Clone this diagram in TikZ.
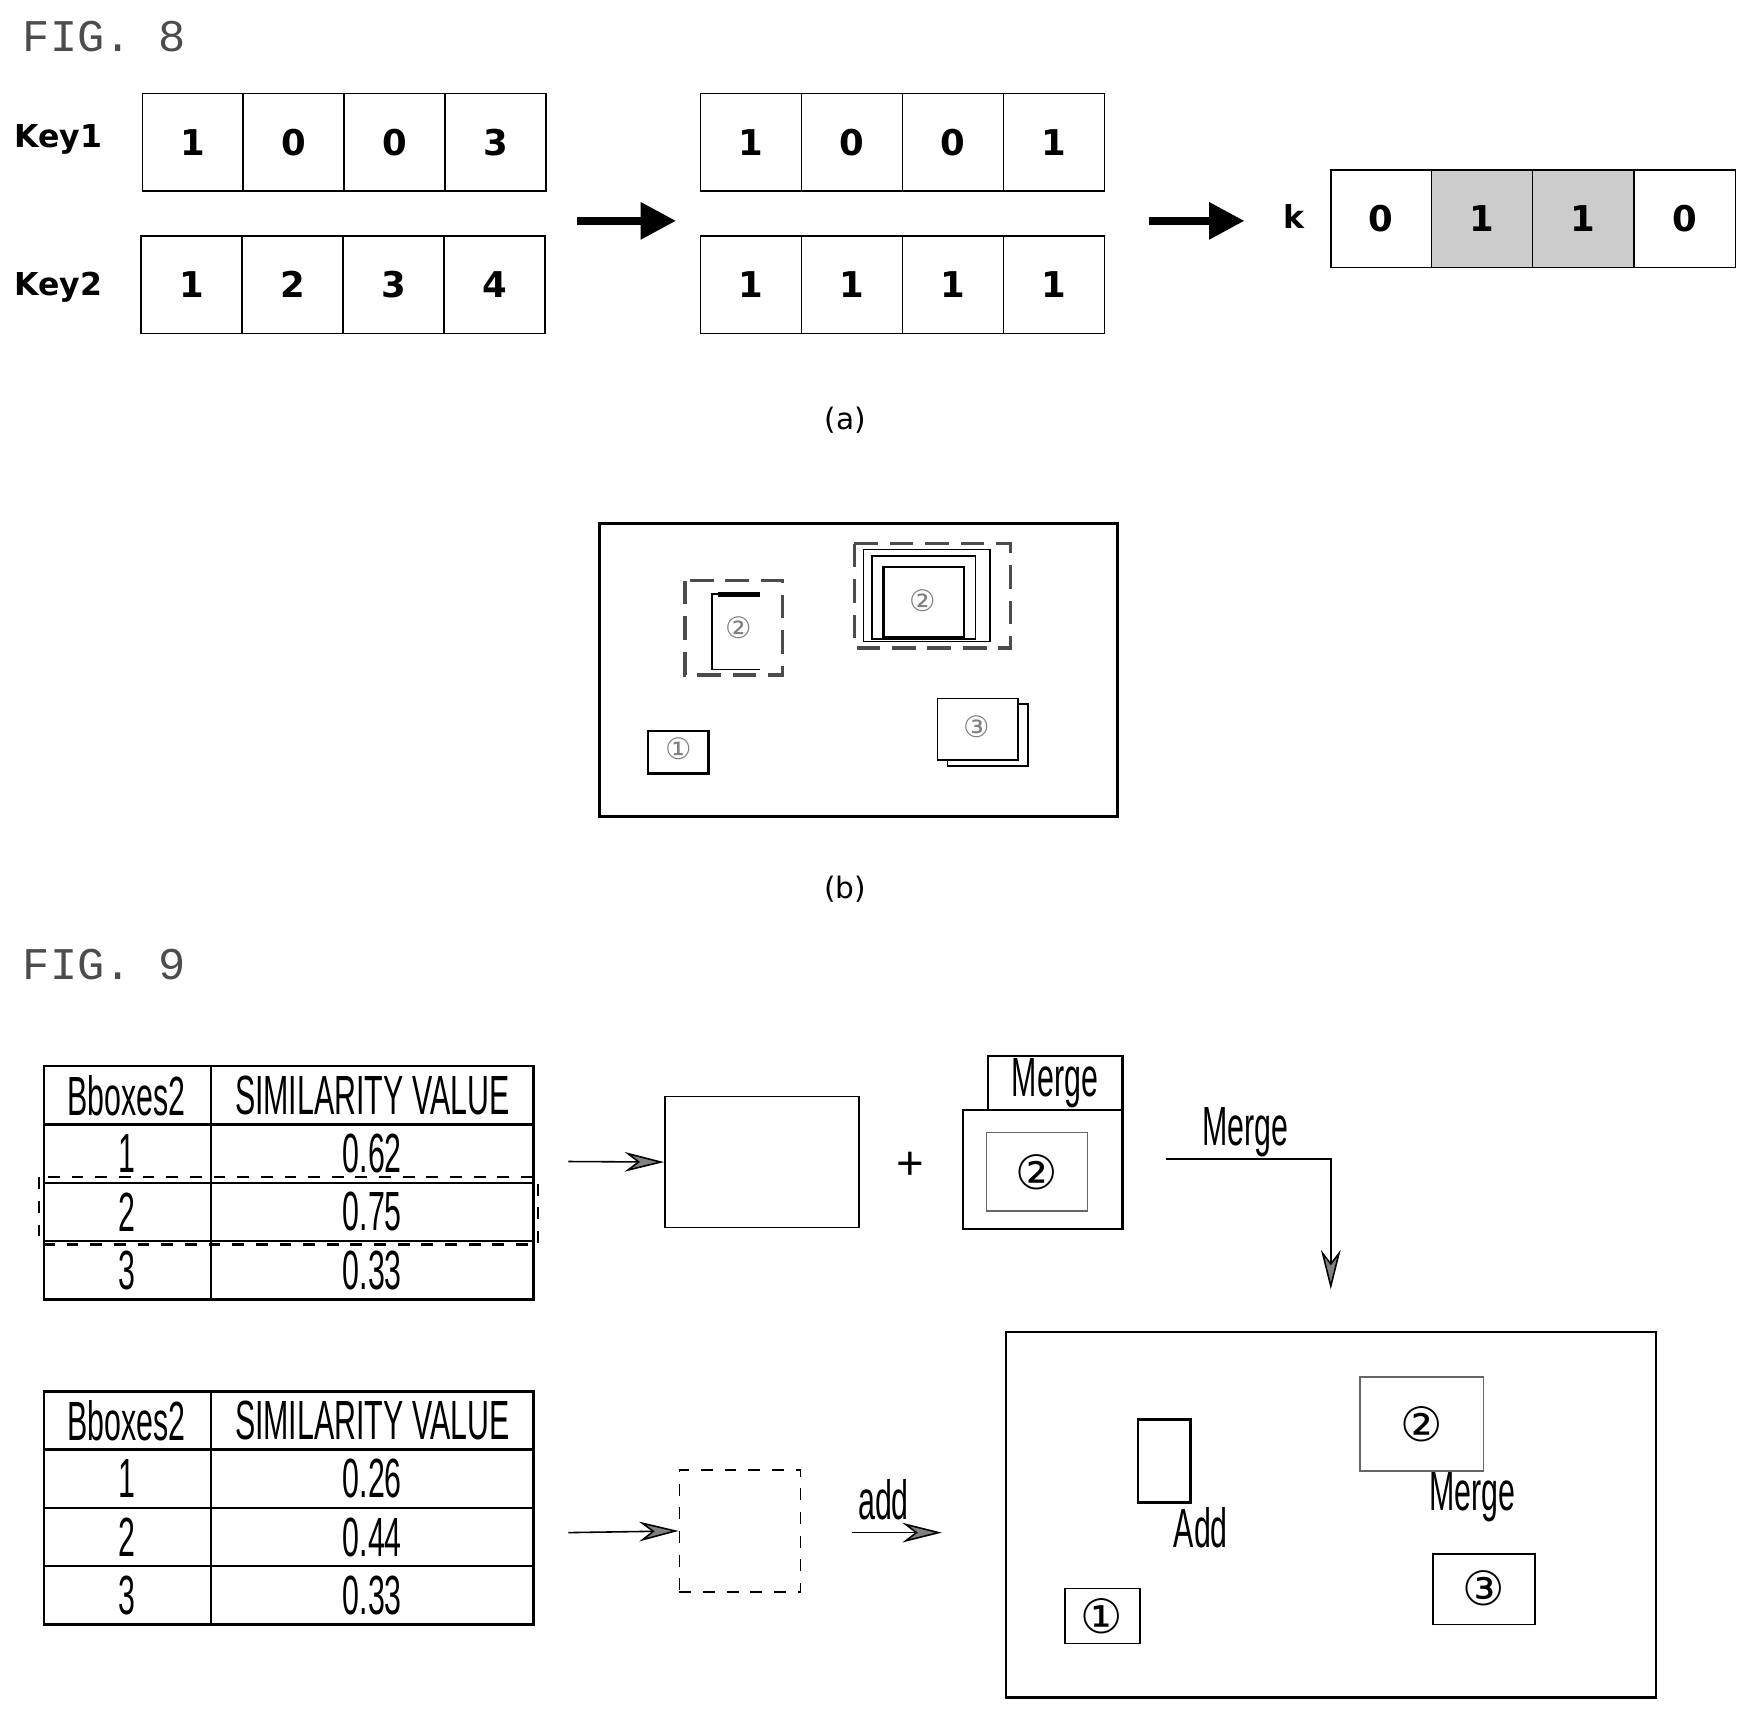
\documentclass[tikz,border=0pt]{standalone}
\usepackage{fontspec}
\usetikzlibrary{arrows.meta,positioning}
\newfontfamily\figfont{Liberation Mono}
\newfontfamily\cellfont{DejaVu Sans}
\newfontfamily\narrowfont{Liberation Sans}
\newfontfamily\circfont{DejaVu Sans}
\newcommand{\narrow}[1]{\scalebox{0.55}[1]{#1}}
\tikzset{
  figlabel/.style={anchor=west,font=\figfont\fontsize{11.5}{12}\selectfont,text=black!70},
  cell/.style={draw,thin,minimum width=0.9cm,minimum height=0.87cm,inner sep=0pt,
    font=\cellfont\bfseries\fontsize{9}{9}\selectfont},
  keylabel/.style={font=\cellfont\bfseries\fontsize{8}{8}\selectfont},
  tcell/.style={font=\narrowfont\fontsize{14}{14}\selectfont},
  fatarrow/.style={line width=2pt,-{Triangle[length=9pt,width=9pt]}},
  thinarrow/.style={thin,-{Stealth[length=10pt,width=5pt,fill=black!50]}},
  sub/.style={font=\cellfont\fontsize{7.5}{8}\selectfont},
  circ/.style={font=\circfont\fontsize{7.5}{8}\selectfont,text=black!50},
  bigcirc/.style={font=\circfont\fontsize{12}{12}\selectfont}
}
\begin{document}
\begin{tikzpicture}[x=0.01cm,y=-0.01cm]
\useasboundingbox (0,0) rectangle (1560,1525);

% FIG. 8 (a)
\node[figlabel] (fig8) at (8,33) {FIG. 8};
\node[keylabel] (key1) at (52,124) {Key1};
\node[keylabel] (key2) at (52,256) {Key2};
\foreach \v [count=\i] in {1,0,0,3}
  \node[cell] (ka\i) at (127+90*\i-45,127) {\v};
\foreach \v [count=\i] in {1,2,3,4}
  \node[cell] (kb\i) at (126+90*\i-45,254) {\v};
\foreach \v [count=\i] in {1,0,0,1}
  \node[cell] (ma\i) at (625+90*\i-45,127) {\v};
\foreach \v [count=\i] in {1,1,1,1}
  \node[cell] (mb\i) at (625+90*\i-45,254) {\v};
\node[cell] (r1) at (1232,195) {0};
\node[cell,fill=black!20] (r2) at (1322,195) {1};
\node[cell,fill=black!20] (r3) at (1412,195) {1};
\node[cell] (r4) at (1503,195) {0};
\node[keylabel] (k) at (1154,193) {k};
\coordinate (a1s) at (515,197); \coordinate (a1e) at (603,197);
\coordinate (a2s) at (1025,197); \coordinate (a2e) at (1110,197);
\draw[fatarrow] (a1s) -- (a1e);
\draw[fatarrow] (a2s) -- (a2e);
\node[sub] (suba) at (754,375) {(a)};

% FIG. 8 (b)
\draw[thick] (535,467) rectangle (997,728);
\draw[dash pattern=on 6pt off 3pt,thick,black!70] (611,518) rectangle (698,602);
\draw[thin] (678,530) -- (635,530) -- (635,597) -- (678,597);
\draw[very thick] (640,530) -- (678,530);
\node[circ] (b2a) at (659,560) {②};
\draw[dash pattern=on 6pt off 3pt,thick,black!70] (762,485) rectangle (901,578);
\draw[thin] (770,490) rectangle (883,572);
\draw (778,496) rectangle (870,570);
\draw[semithick] (788,506) rectangle (860,568);
\node[circ] (b2b) at (823,536) {②};
\draw[thin] (845,628) rectangle (917,683);
\draw[thin,fill=white] (836,623) rectangle (908,678);
\node[circ] (b3) at (871,648) {③};
\draw[semithick] (578,652) rectangle (632,690);
\node[circ] (b1) at (605,668) {①};
\node[sub] (subb) at (754,793) {(b)};

% FIG. 9
\node[figlabel] (fig9) at (8,860) {FIG. 9};
\foreach \y/\top in {951/t,1241/u}{
  \draw[semithick] (39,\y) rectangle (476,\y+208);
  \draw (188,\y) -- (188,\y+208);
  \foreach \r in {1,2,3} \draw[semithick] (39,\y+52*\r) -- (476,\y+52*\r);
  \node[tcell] (\top h1) at (113,\y+26) {\narrow{Bboxes2}};
  \node[tcell] (\top h2) at (332,\y+26) {\narrow{SIMILARITY VALUE}};
}
\foreach \v [count=\i] in {0.62,0.75,0.33}{
  \node[tcell] (ti\i) at (113,951+52*\i+26) {\narrow{\i}};
  \node[tcell] (tv\i) at (332,951+52*\i+26) {\narrow{\v}};
}
\foreach \v [count=\i] in {0.26,0.44,0.33}{
  \node[tcell] (ui\i) at (113,1241+52*\i+26) {\narrow{\i}};
  \node[tcell] (uv\i) at (332,1241+52*\i+26) {\narrow{\v}};
}
\draw[dashed,semithick] (35,1050) rectangle (480,1110);

\node[draw,minimum width=1.73cm,minimum height=1.17cm] (prev) at (679.5,1036.5) {};
\coordinate (p1s) at (507,1036);
\draw[thinarrow] (p1s) -- (prev.west);
\node[font=\narrowfont\fontsize{12}{12}\selectfont] (plus) at (812,1040) {+};
\node[draw,semithick,minimum width=1.2cm,minimum height=0.48cm,inner sep=0pt] (tab) at (941,966) {};
\node[tcell] (tabl) at (tab.center) {\narrow{Merge}};
\node[draw,semithick,minimum width=1.42cm,minimum height=1.06cm] (mbox) at (930,1043) {};
\node[draw,thin,black!60,minimum width=0.9cm,minimum height=0.7cm] (minner) at (925,1045) {};
\node[bigcirc] (m2) at (925,1046) {②};
\node[tcell] (mlab) at (1111,1010) {\narrow{Merge}};
\coordinate (ms) at (1040,1034);
\coordinate (mc) at (1187,1034);
\coordinate (me) at (1187,1150);
\draw[thinarrow] (ms) -- (mc) -- (me);

\node[draw,dashed,minimum width=1.08cm,minimum height=1.09cm] (newb) at (660,1365.5) {};
\coordinate (p2s) at (507,1367);
\draw[thinarrow] (p2s) -- (newb.west);
\node[tcell] (addl) at (788,1338) {\narrow{add}};
\coordinate (ads) at (760,1367); \coordinate (ade) at (840,1367);
\draw[thinarrow] (ads) -- (ade);

\draw[semithick] (897,1188) rectangle (1477,1514);
\draw[semithick] (1015,1266) rectangle (1062,1340);
\node[tcell] (addt) at (1071,1363) {\narrow{Add}};
\draw[thin,black!60] (1213,1228) rectangle (1323,1312);
\node[bigcirc] (f2) at (1268,1270) {②};
\node[tcell] (mergt) at (1313,1335) {\narrow{Merge}};
\draw[thin] (1278,1386) rectangle (1369,1449);
\node[bigcirc] (f3) at (1323,1417) {③};
\draw (950,1417) rectangle (1017,1466);
\node[bigcirc] (f1) at (983,1442) {①};
\end{tikzpicture}
\end{document}
